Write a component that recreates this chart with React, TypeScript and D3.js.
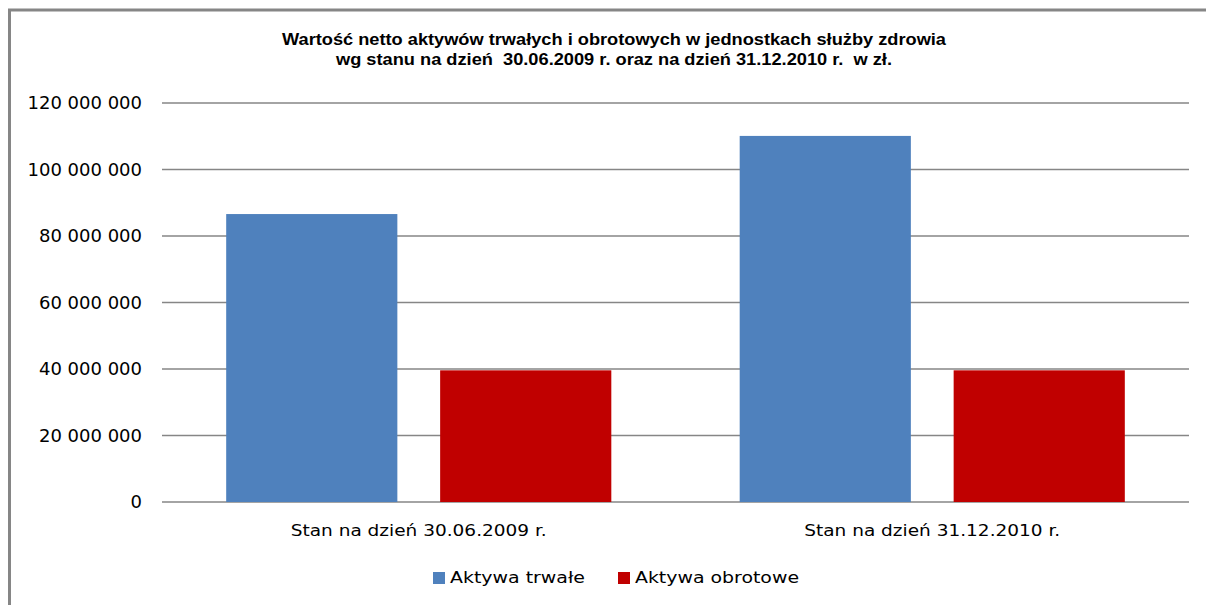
import React from "react";
import * as d3 from "d3";

const categories = ["Stan na dzień 30.06.2009 r.", "Stan na dzień 31.12.2010 r."];
const seriesNames = ["Aktywa trwałe", "Aktywa obrotowe"];
const aktywaTrwale = [86600000, 110100000];
const aktywaObrotowe = [39600000, 39600000];
const yTicks = [0, 20000000, 40000000, 60000000, 80000000, 100000000, 120000000];
const titleLines = [
  "Wartość netto aktywów trwałych i obrotowych w jednostkach służby zdrowia",
  "wg stanu na dzień  30.06.2009 r. oraz na dzień 31.12.2010 r.  w zł.",
];
const colors = ["#4F81BD", "#C00000"];

const W = 1206;
const H = 605;
const plot = { left: 162, right: 1189, top: 103, bottom: 502 };

const fmt = (v: number) => {
  if (v === 0) return "0";
  const s = String(Math.round(v));
  return s.replace(/\B(?=(\d{3})+(?!\d))/g, " ");
};

export default function App() {
  const x0 = d3.scaleBand<string>().domain(categories).range([plot.left, plot.right]).paddingInner(0).paddingOuter(0);
  const x1 = d3.scaleBand<string>().domain(seriesNames).range([0, x0.bandwidth()]).paddingInner(0.2).paddingOuter(0.3);
  const y = d3.scaleLinear().domain([0, 120000000]).range([plot.bottom, plot.top]);
  const values = [aktywaTrwale, aktywaObrotowe];
  const font = "'DejaVu Sans', sans-serif";

  return (
    <svg width={W} height={H} style={{ position: "absolute", left: 0, top: 0, background: "#fff" }}>
      <rect x={0} y={0} width={W} height={H} fill="#fff" />
      <path d={`M9.5,${H} V10 H${W}`} fill="none" stroke="#868686" strokeWidth={3} />
      {titleLines.map((t, i) => (
        <text
          key={i}
          x={614}
          y={45 + i * 20}
          textAnchor="middle"
          fontFamily="'Liberation Sans', Arial, sans-serif"
          fontWeight="bold"
          fontSize={16.5}
          fill="#000"
          style={{ whiteSpace: "pre" }}
          textLength={i === 0 ? 664 : 556}
          lengthAdjust="spacingAndGlyphs"
        >
          {t}
        </text>
      ))}
      {yTicks.map((t) => (
        <g key={t}>
          <line x1={plot.left} x2={plot.right} y1={y(t)} y2={y(t)} stroke="#868686" strokeWidth={1.5} />
          <text x={142} y={y(t)} dy="0.36em" textAnchor="end" fontFamily={font} fontSize={18} fill="#000">
            {fmt(t)}
          </text>
        </g>
      ))}
      {categories.map((c, ci) => (
        <g key={c}>
          {seriesNames.map((s, si) => (
            <rect
              key={s}
              x={(x0(c) as number) + (x1(s) as number)}
              y={y(values[si][ci])}
              width={x1.bandwidth()}
              height={y(0) - y(values[si][ci])}
              fill={colors[si]}
            />
          ))}
          <text
            x={(x0(c) as number) + x0.bandwidth() / 2}
            y={536}
            textAnchor="middle"
            fontFamily={font}
            fontSize={16.5}
            fill="#000"
            textLength={256}
            lengthAdjust="spacingAndGlyphs"
          >
            {c}
          </text>
        </g>
      ))}
      {seriesNames.map((s, si) => {
        const lx = si === 0 ? 433 : 618;
        const tl = si === 0 ? 135 : 164;
        return (
          <g key={s}>
            <rect x={lx} y={572} width={12} height={12} fill={colors[si]} />
            <text
              x={lx + 17}
              y={583}
              fontFamily={font}
              fontSize={15}
              fill="#000"
              textLength={tl}
              lengthAdjust="spacingAndGlyphs"
            >
              {s}
            </text>
          </g>
        );
      })}
    </svg>
  );
}
